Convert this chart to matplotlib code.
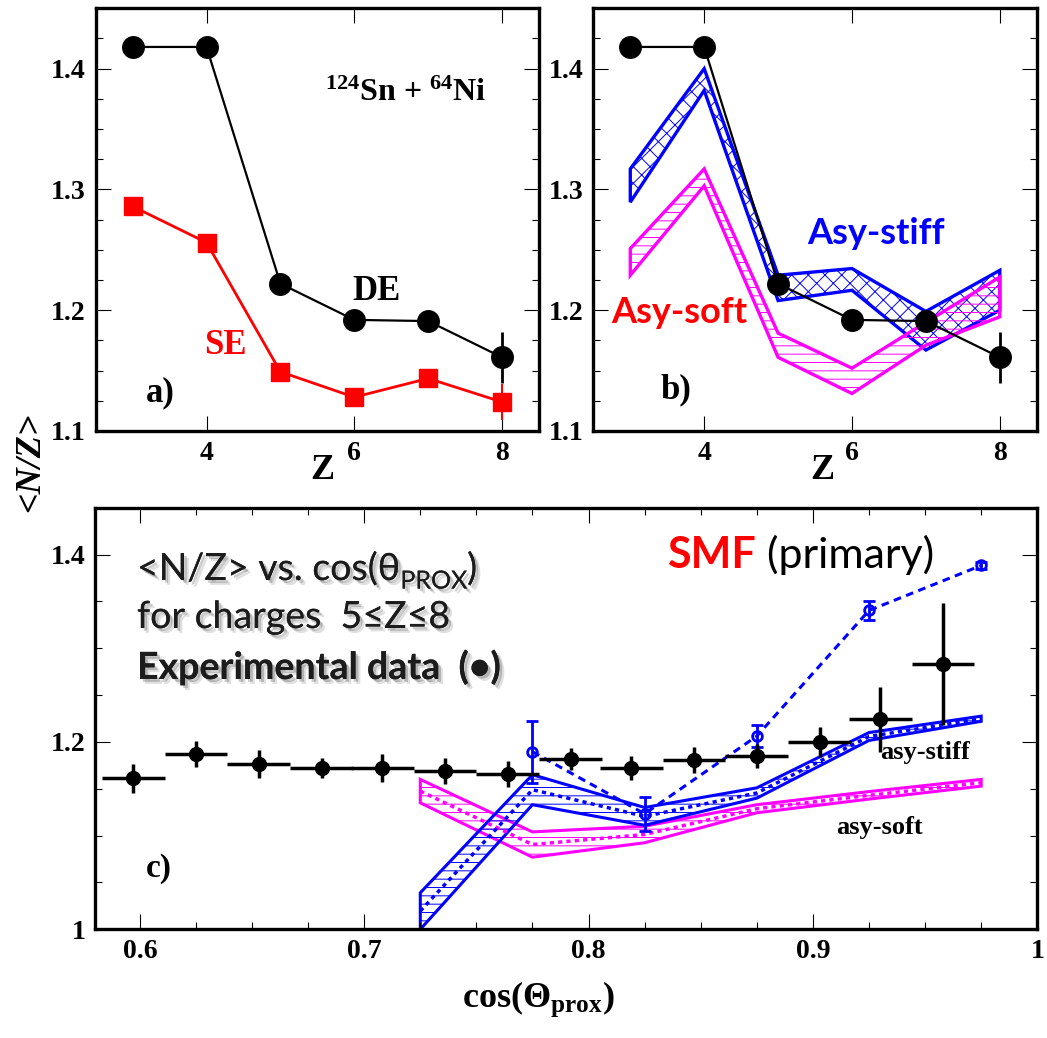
import numpy as np
import matplotlib
matplotlib.use('Agg')
import matplotlib.pyplot as plt
import matplotlib.patheffects as pe
from matplotlib.ticker import MultipleLocator, FixedLocator

plt.rcParams['font.family'] = ['Liberation Serif', 'DejaVu Serif']
plt.rcParams['font.weight'] = 'bold'
plt.rcParams['mathtext.fontset'] = 'custom'
plt.rcParams['mathtext.rm'] = 'Liberation Serif:bold'
plt.rcParams['mathtext.it'] = 'Liberation Serif:bold'
plt.rcParams['mathtext.bf'] = 'Liberation Serif:bold'
plt.rcParams['hatch.linewidth'] = 0.7

# panels a) and b): <N/Z> vs Z
Z = [3, 4, 5, 6, 7, 8]
de = [1.418, 1.418, 1.222, 1.192, 1.191, 1.161]
de_err = [0, 0, 0, 0, 0, 0.021]
se = [1.286, 1.256, 1.149, 1.128, 1.1435, 1.124]
se_err = [0, 0, 0, 0, 0, 0.015]

stiff_hi = [1.317, 1.400, 1.229, 1.2345, 1.199, 1.233]
stiff_lo = [1.2895, 1.382, 1.208, 1.2165, 1.167, 1.200]
soft_hi = [1.251, 1.317, 1.181, 1.152, 1.190, 1.2275]
soft_lo = [1.229, 1.303, 1.161, 1.131, 1.171, 1.1945]

# panel c): <N/Z> vs cos(theta_prox)
cos_exp = [0.597, 0.625, 0.653, 0.681, 0.708, 0.736, 0.764,
           0.792, 0.819, 0.847, 0.875, 0.903, 0.930, 0.958]
nz_exp = [1.161, 1.187, 1.176, 1.172, 1.172, 1.169, 1.166,
          1.182, 1.172, 1.181, 1.185, 1.200, 1.224, 1.283]
nz_exp_err = [0.015, 0.014, 0.015, 0.011, 0.015, 0.014, 0.014,
              0.012, 0.013, 0.014, 0.013, 0.016, 0.035, 0.065]
bin_half = 0.014

cos_smf = [0.775, 0.825, 0.875, 0.925, 0.975]
nz_smf = [1.1895, 1.1233, 1.2062, 1.3403, 1.3883]
nz_smf_err = [0.033, 0.018, 0.012, 0.010, 0.004]

cos_band = [0.725, 0.775, 0.825, 0.875, 0.925, 0.975]
c_stiff_hi = [1.039, 1.165, 1.130, 1.151, 1.210, 1.2275]
c_stiff_lo = [1.000, 1.133, 1.111, 1.140, 1.2016, 1.222]
c_soft_hi = [1.160, 1.104, 1.110, 1.133, 1.147, 1.160]
c_soft_lo = [1.135, 1.077, 1.0924, 1.1244, 1.139, 1.1528]

BLUE = '#0000ff'
PINK = '#ff00ff'
RED = '#ff0000'
SANS = ['Lato', 'DejaVu Sans']


def style(ax):
    for s in ax.spines.values():
        s.set_linewidth(2.4)
    ax.tick_params(which='both', direction='in', top=True, right=True,
                   width=0.8, labelsize=20, pad=7)
    ax.tick_params(which='major', length=11)
    ax.tick_params(which='minor', length=5)


def band(ax, x, lo, hi, color, hatch, lw):
    x = np.asarray(x)
    xs = np.r_[x, x[::-1]]
    ys = np.r_[hi, np.asarray(lo)[::-1]]
    ax.fill(xs, ys, facecolor='none', edgecolor=color, hatch=hatch, lw=lw)


def z_axes(ax):
    style(ax)
    ax.set_xlim(2.5, 8.5)
    ax.set_ylim(1.1, 1.45)
    ax.xaxis.set_major_locator(FixedLocator([4, 6, 8]))
    ax.set_xticklabels(['4', '6', '8'])
    ax.yaxis.set_major_locator(FixedLocator([1.1, 1.2, 1.3, 1.4]))
    ax.set_yticklabels(['1.1', '1.2', '1.3', '1.4'])
    ax.yaxis.set_minor_locator(MultipleLocator(0.025))


fig = plt.figure(figsize=(10.47, 10.38), dpi=100)
ax_a = fig.add_axes([0.0914, 0.5848, 0.4234, 0.4072])
ax_b = fig.add_axes([0.5667, 0.5848, 0.4235, 0.4072])
ax_c = fig.add_axes([0.0907, 0.1047, 0.9000, 0.4062])

# ---- panel a
z_axes(ax_a)
ax_a.errorbar(Z, se, yerr=se_err, color=RED, marker='s', ms=13.5, lw=2,
              elinewidth=1.5, capsize=0)
ax_a.errorbar(Z, de, yerr=de_err, color='k', marker='o', ms=15.5, lw=1.6,
              elinewidth=2, capsize=0)
ax_a.text(5.6, 1.3736, r'$^{124}$Sn + $^{64}$Ni', fontsize=23, va='baseline')
ax_a.text(6.30, 1.2157, 'DE', fontsize=25, ha='center', va='center')
ax_a.text(4.26, 1.171, 'SE', color=RED, fontsize=25, ha='center', va='center')
ax_a.text(3.38, 1.132, 'a)', fontsize=25, ha='center', va='center')

# ---- panel b
z_axes(ax_b)
band(ax_b, Z, stiff_lo, stiff_hi, BLUE, 'xx', 2.4)
band(ax_b, Z, soft_lo, soft_hi, PINK, '--', 2.4)
ax_b.errorbar(Z, de, yerr=de_err, color='k', marker='o', ms=15.5, lw=1.6,
              elinewidth=2, capsize=0, zorder=5)
ax_b.text(6.32, 1.2636, 'Asy-stiff', color=BLUE, fontsize=26, family=SANS,
          ha='center', va='center')
ax_b.text(3.66, 1.1983, 'Asy-soft', color=RED, fontsize=26, family=SANS,
          ha='center', va='center')
ax_b.text(3.62, 1.134, 'b)', fontsize=25, ha='center', va='center')

fig.text(0.3075, 0.547, 'Z', fontsize=26, ha='center', va='center')
fig.text(0.785, 0.547, 'Z', fontsize=26, ha='center', va='center')
fig.text(0.029, 0.555, '<N/Z>', fontsize=26, style='italic', rotation=90,
         ha='center', va='center')

# ---- panel c
style(ax_c)
ax_c.set_xlim(0.58, 1.0)
ax_c.set_ylim(1.0, 1.45)
ax_c.xaxis.set_major_locator(FixedLocator([0.6, 0.7, 0.8, 0.9, 1.0]))
ax_c.set_xticklabels(['0.6', '0.7', '0.8', '0.9', '1'])
ax_c.xaxis.set_minor_locator(MultipleLocator(0.025))
ax_c.yaxis.set_major_locator(FixedLocator([1.0, 1.2, 1.4]))
ax_c.set_yticklabels(['1', '1.2', '1.4'])
ax_c.yaxis.set_minor_locator(MultipleLocator(0.05))

band(ax_c, cos_band, c_soft_lo, c_soft_hi, PINK, '--', 2.2)
band(ax_c, cos_band, c_stiff_lo, c_stiff_hi, BLUE, '--', 2.2)
soft_mid = (np.array(c_soft_lo) + np.array(c_soft_hi)) / 2
stiff_mid = (np.array(c_stiff_lo) + np.array(c_stiff_hi)) / 2
ax_c.plot(cos_band, soft_mid, color=PINK, lw=2.5, ls=(0, (1.2, 1.2)))
ax_c.plot(cos_band, stiff_mid, color=BLUE, lw=2.5, ls=(0, (1.2, 1.2)))

ax_c.errorbar(cos_smf, nz_smf, yerr=nz_smf_err, color=BLUE, marker='o',
              ms=7, mfc='none', mew=2, lw=2.2, ls=(0, (2.5, 1.8)),
              elinewidth=2, capsize=4, capthick=2, zorder=4)
ax_c.errorbar(cos_exp, nz_exp, xerr=bin_half, yerr=nz_exp_err, fmt='o',
              color='k', ms=10, elinewidth=2.5, capsize=0, zorder=5)

shadow = [pe.withSimplePatchShadow(offset=(3.5, -3.5), shadow_rgbFace='k',
                                   alpha=0.12),
          pe.withSimplePatchShadow(offset=(2, -2), shadow_rgbFace='k',
                                   alpha=0.2)]
gray = '#1c1c1c'
FS = 27
t1 = ax_c.text(0.0446, 0.8285, '<N/Z> vs. cos(θ', transform=ax_c.transAxes,
               family=SANS, weight='normal', fontsize=FS, color=gray,
               va='baseline', path_effects=shadow)
t1b = ax_c.annotate('PROX', xy=(1, 0), xycoords=t1, xytext=(0, -4),
                    textcoords='offset points', family=SANS, weight='normal',
                    fontsize=18, color=gray, va='bottom', path_effects=shadow)
ax_c.annotate(')', xy=(1, 0), xycoords=(t1b, t1), family=SANS,
              weight='normal', fontsize=FS, color=gray, va='bottom',
              path_effects=shadow)
ax_c.text(0.0446, 0.7147, 'for charges  5≤Z≤8', transform=ax_c.transAxes,
          family=SANS, weight='normal', fontsize=FS, color=gray,
          va='baseline', path_effects=shadow)
ax_c.text(0.0446, 0.5937, 'Experimental data  (•)', transform=ax_c.transAxes,
          family=SANS, weight='bold', fontsize=FS, color=gray,
          va='baseline', path_effects=shadow)

t2 = ax_c.text(0.607, 0.8558, 'SMF', transform=ax_c.transAxes, family=SANS,
               weight='bold', fontsize=31, color=RED, va='baseline')
ax_c.annotate(' (primary)', xy=(1, 0), xycoords=t2, family=SANS,
              weight='normal', fontsize=31, color='k', va='bottom')

ax_c.text(0.8808, 0.4205, 'asy-stiff', transform=ax_c.transAxes,
          fontsize=19, ha='center', va='center')
ax_c.text(0.833, 0.2407, 'asy-soft', transform=ax_c.transAxes,
          fontsize=19, ha='center', va='center')
ax_c.text(0.0679, 0.1454, 'c)', transform=ax_c.transAxes,
          fontsize=24, ha='center', va='center')

fig.text(0.514, 0.030, r'cos($\Theta_{\rm prox}$)', fontsize=26,
         ha='center', va='baseline')

fig.savefig('out.png', dpi=100)
